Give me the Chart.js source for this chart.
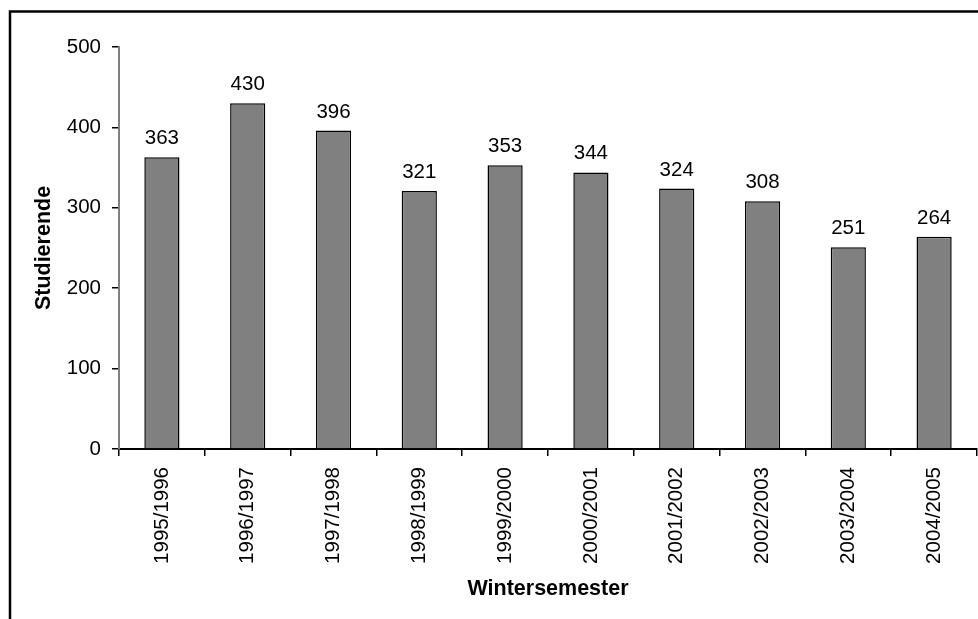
<!DOCTYPE html>
<html>
<head>
<meta charset="utf-8">
<script src="https://cdn.jsdelivr.net/npm/chart.js@4/dist/chart.umd.min.js"></script>
<style>
  html, body { margin: 0; padding: 0; background: #ffffff; }
  #wrap { width: 978px; height: 619px; }
</style>
</head>
<body>
<div id="wrap"><canvas id="c" width="978" height="619"></canvas></div>
<script>
// Student numbers per winter semester
const semesters = ['1995/1996', '1996/1997', '1997/1998', '1998/1999', '1999/2000',
                   '2000/2001', '2001/2002', '2002/2003', '2003/2004', '2004/2005'];
const students = [363, 430, 396, 321, 353, 344, 324, 308, 251, 264];
const yTicks = [0, 100, 200, 300, 400, 500];

const FONT = "'Liberation Sans', Arial, Helvetica, sans-serif";
const TEXT_SIZE = 20.5;
const TITLE_SIZE = 21.5;
Chart.defaults.font.family = FONT;
Chart.defaults.font.size = TEXT_SIZE;
Chart.defaults.color = '#000000';

// Outer frame around the chart
const framePlugin = {
  id: 'frame',
  beforeDraw(chart) {
    const ctx = chart.ctx;
    ctx.save();
    ctx.fillStyle = '#ffffff';
    ctx.fillRect(0, 0, chart.width, chart.height);
    ctx.strokeStyle = '#000000';
    ctx.lineWidth = 2.5;
    ctx.strokeRect(10, 11.5, chart.width + 20, chart.height + 20);
    ctx.restore();
  }
};

// Value labels above each bar
const valueLabels = {
  id: 'valueLabels',
  afterDatasetsDraw(chart) {
    const ctx = chart.ctx;
    const meta = chart.getDatasetMeta(0);
    const data = chart.data.datasets[0].data;
    ctx.save();
    ctx.font = TEXT_SIZE + 'px ' + FONT;
    ctx.fillStyle = '#000000';
    ctx.textAlign = 'center';
    ctx.textBaseline = 'alphabetic';
    meta.data.forEach((bar, i) => {
      ctx.fillText(String(data[i]), bar.x, bar.y - 13);
    });
    ctx.restore();
  }
};

new Chart(document.getElementById('c'), {
  type: 'bar',
  data: {
    labels: semesters,
    datasets: [{
      data: students,
      backgroundColor: '#808080',
      borderColor: '#000000',
      borderWidth: 1.5,
      categoryPercentage: 1.0,
      barPercentage: 0.41
    }]
  },
  options: {
    responsive: false,
    animation: false,
    devicePixelRatio: 1,
    layout: { padding: { top: 47, right: 1, left: 0, bottom: 0 } },
    plugins: {
      legend: { display: false },
      tooltip: { enabled: false }
    },
    scales: {
      x: {
        grid: { drawOnChartArea: false, drawTicks: true, tickLength: 7, color: '#000000', lineWidth: 1.5, offset: true },
        border: { color: '#000000', width: 2 },
        ticks: { minRotation: 90, maxRotation: 90, autoSkip: false, padding: 11, color: '#000000', font: { size: TEXT_SIZE } },
        title: { display: true, text: 'Wintersemester', color: '#000000', font: { size: TITLE_SIZE, weight: 'bold' }, padding: { top: 0, bottom: 17 } },
        afterFit(scale) { scale.height = 170; }
      },
      y: {
        min: 0,
        max: 500,
        afterBuildTicks(scale) { scale.ticks = yTicks.map(v => ({ value: v })); },
        grid: { drawOnChartArea: false, drawTicks: true, tickLength: 7, color: '#000000', lineWidth: 1.5 },
        border: { color: '#808080', width: 2 },
        ticks: { padding: 11, color: '#000000', font: { size: TEXT_SIZE } },
        title: { display: true, text: 'Studierende', color: '#000000', font: { size: TITLE_SIZE, weight: 'bold' }, padding: { top: 31, bottom: 0 } },
        afterFit(scale) { scale.width = 119; }
      }
    }
  },
  plugins: [framePlugin, valueLabels]
});
</script>
</body>
</html>
